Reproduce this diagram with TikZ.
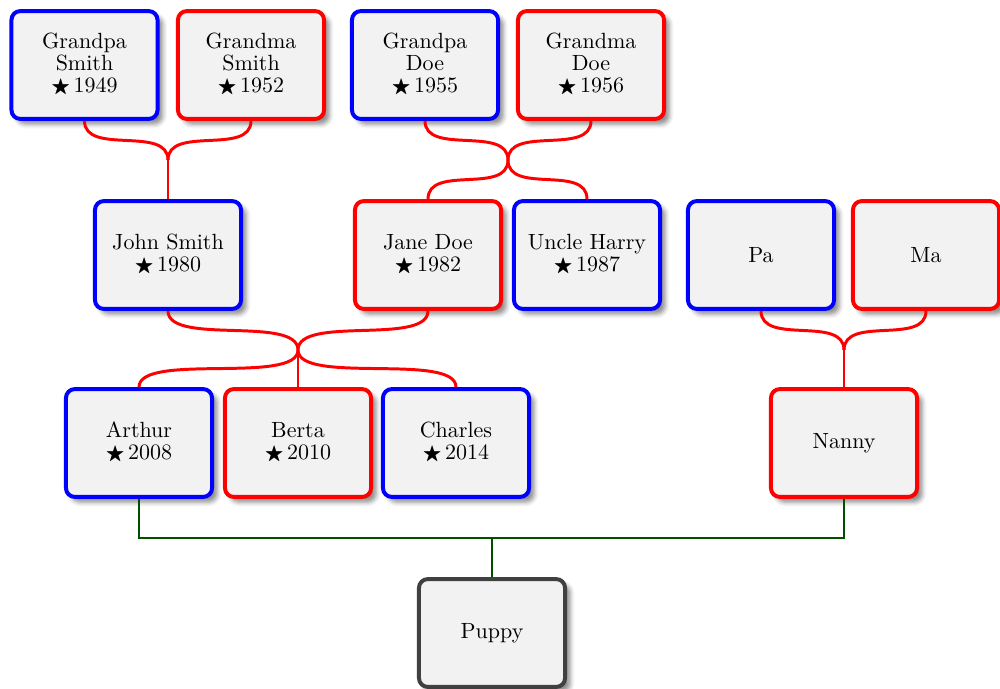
\documentclass[tikz,border=0pt]{standalone}
\usepackage{amssymb}
\usetikzlibrary{shadows.blur}
\definecolor{edgegreen}{RGB}{0,80,0}
\definecolor{boxfill}{RGB}{242,242,242}
\definecolor{petgray}{RGB}{64,64,64}
\newcommand{\born}{{\small$\bigstar$}\,}
\tikzset{
  person/.style={rectangle, rounded corners=4pt, draw, line width=1.8pt, fill=boxfill,
    minimum width=66.4pt, minimum height=49pt, inner sep=0pt, align=center,
    font=\fontsize{10}{10}\selectfont,
    blur shadow={shadow xshift=2.4pt, shadow yshift=-2.4pt, shadow blur radius=2pt, shadow opacity=45}},
  male/.style={person, draw=blue},
  female/.style={person, draw=red},
  pet/.style={person, draw=petgray},
  famedge/.style={draw=red, line width=1.35pt},
  linkedge/.style={draw=edgegreen, line width=1.2pt}
}
% parent -> cusp
\newcommand{\upbranch}[2]{%
  \draw[famedge] (#1.south) .. controls ([yshift=-15.9pt]#1.south) and ([yshift=15.9pt]#2) .. (#2);
}
% cusp -> child
\newcommand{\downbranch}[2]{%
  \draw[famedge] (#1) .. controls ([yshift=-15.9pt]#1) and ([yshift=15.9pt]#2.north) .. (#2.north);
}
\begin{document}
\begin{tikzpicture}[x=0.4545pt, y=-0.4545pt]
\useasboundingbox (0,0) rectangle (1000,688);
% row 1
\node[male]   (gps) at (84.5,65)  {Grandpa\\Smith\\\born 1949};
\node[female] (gms) at (251,65) {Grandma\\Smith\\\born 1952};
\node[male]   (gpd) at (425,65) {Grandpa\\Doe\\\born 1955};
\node[female] (gmd) at (591,65) {Grandma\\Doe\\\born 1956};
% row 2
\node[male]   (john)  at (168,255) {John Smith\\\born 1980};
\node[female] (jane)  at (428,255) {Jane Doe\\\born 1982};
\node[male]   (harry) at (587,255) {Uncle Harry\\\born 1987};
\node[male]   (pa)    at (761,255) {Pa};
\node[female] (ma)    at (926,255) {Ma};
% row 3
\node[male]   (arthur)  at (139,443) {Arthur\\\born 2008};
\node[female] (berta)   at (298,443) {Berta\\\born 2010};
\node[male]   (charles) at (456,443) {Charles\\\born 2014};
\node[female] (nanny)   at (844,443) {Nanny};
% row 4
\node[pet] (puppy) at (492,633) {Puppy};

% cusp coordinates
\coordinate (js) at (168,160);
\coordinate (jd) at (508,160);
\coordinate (jf) at (298,350);
\coordinate (jn) at (844,350);
\coordinate (g1) at (492,538);

% Smith family
\upbranch{gps}{js}
\upbranch{gms}{js}
\draw[famedge] (js) -- (john.north);
% Doe family
\upbranch{gpd}{jd}
\upbranch{gmd}{jd}
\downbranch{jd}{jane}
\downbranch{jd}{harry}
% Smith-Doe family
\upbranch{john}{jf}
\upbranch{jane}{jf}
\downbranch{jf}{arthur}
\downbranch{jf}{charles}
\draw[famedge] (jf) -- (berta.north);
% Pa and Ma
\upbranch{pa}{jn}
\upbranch{ma}{jn}
\draw[famedge] (jn) -- (nanny.north);
% link to puppy
\draw[linkedge] (arthur.south) |- (g1) -| (nanny.south);
\draw[linkedge] (puppy.north) -- (g1);
\end{tikzpicture}
\end{document}
